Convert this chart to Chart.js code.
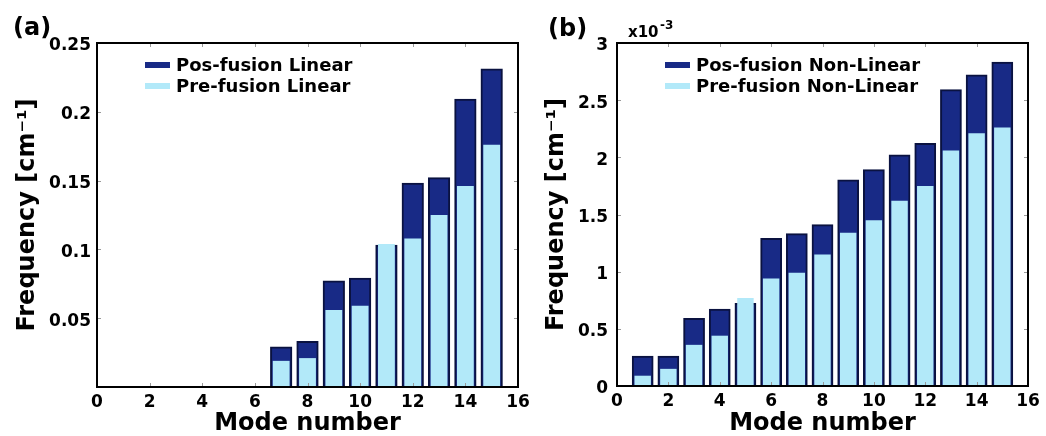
<!DOCTYPE html>
<html>
<head>
<meta charset="utf-8">
<script src="https://cdn.jsdelivr.net/npm/chart.js@4.4.1/dist/chart.umd.min.js"></script>
<style>
  body { margin: 0; background: #fff; }
  #wrap { position: relative; width: 1046px; height: 436px; }
  canvas { position: absolute; top: 0; }
</style>
</head>
<body>
<div id="wrap">
  <canvas id="chartA" width="545" height="436" style="left:0"></canvas>
  <canvas id="chartB" width="523" height="436" style="left:523px"></canvas>
</div>
<script>
// --- data ---
const modes = [1, 2, 3, 4, 5, 6, 7, 8, 9, 10, 11, 12, 13, 14, 15];

// (a) linear, cm^-1 (modes 1-6 have no bar)
const linearPos = [null, null, null, null, null, null, 0.029, 0.033, 0.077, 0.079, 0.103, 0.148, 0.152, 0.209, 0.231];
const linearPre = [null, null, null, null, null, null, 0.019, 0.021, 0.056, 0.059, 0.104, 0.108, 0.125, 0.146, 0.176];

// (b) non-linear, in units of 1e-3 cm^-1
const nonLinearPos = [0.26, 0.26, 0.59, 0.67, 0.72, 1.29, 1.33, 1.41, 1.80, 1.89, 2.02, 2.12, 2.59, 2.72, 2.83];
const nonLinearPre = [0.09, 0.15, 0.36, 0.44, 0.77, 0.94, 0.99, 1.15, 1.34, 1.45, 1.62, 1.75, 2.06, 2.21, 2.26];

const legendA = ['Pos-fusion Linear', 'Pre-fusion Linear'];
const legendB = ['Pos-fusion Non-Linear', 'Pre-fusion Non-Linear'];

const FONT = 'DejaVu Sans';
const darkFill = '#182a86';
const darkEdge = '#0a1240';
const lightFill = '#b2e9f9';

const toPoints = arr => modes.map((m, i) => ({ x: m, y: arr[i] }));

// black box round the plot + little inward ticks (matplotlib style)
const frame = {
  id: 'frame',
  afterDraw(chart) {
    const { ctx, chartArea: a, scales: { x, y } } = chart;
    ctx.save();
    ctx.strokeStyle = '#999';
    ctx.lineWidth = 1;
    ctx.beginPath();
    x.ticks.forEach(t => {
      const px = Math.round(x.getPixelForValue(t.value)) + 0.5;
      ctx.moveTo(px, a.top); ctx.lineTo(px, a.top + 4);
      ctx.moveTo(px, a.bottom); ctx.lineTo(px, a.bottom - 4);
    });
    y.ticks.forEach(t => {
      const py = Math.round(y.getPixelForValue(t.value)) + 0.5;
      ctx.moveTo(a.left, py); ctx.lineTo(a.left + 4, py);
      ctx.moveTo(a.right, py); ctx.lineTo(a.right - 4, py);
    });
    ctx.stroke();
    ctx.strokeStyle = '#000';
    ctx.lineWidth = 2;
    ctx.strokeRect(a.left, a.top, a.right - a.left, a.bottom - a.top);
    ctx.restore();
  }
};

// legend drawn inside the plot, top left
const insideLegend = {
  id: 'insideLegend',
  afterDraw(chart, args, opts) {
    const { ctx, chartArea: a } = chart;
    ctx.save();
    ctx.font = 'bold 18px "' + FONT + '"';
    ctx.textBaseline = 'middle';
    chart.data.datasets.forEach((ds, i) => {
      const x = a.left + opts.left;
      const y = a.top + opts.top + i * opts.gap;
      ctx.fillStyle = ds.backgroundColor;
      ctx.fillRect(x, y - 3, 25, 6);
      ctx.fillStyle = '#000';
      ctx.fillText(ds.label, x + 31, y + 1);
    });
    ctx.restore();
  }
};

// panel letter and the x10^-3 multiplier
function panelText(items) {
  return {
    id: 'panelText',
    afterDraw(chart) {
      const ctx = chart.ctx;
      ctx.save();
      ctx.fillStyle = '#000';
      ctx.textBaseline = 'alphabetic';
      items.forEach(it => {
        ctx.font = it.font;
        ctx.fillText(it.text, it.x, it.y);
      });
      ctx.restore();
    }
  };
}

function makeChart(id, cfg) {
  return new Chart(document.getElementById(id), {
    type: 'bar',
    data: {
      datasets: [
        {
          label: cfg.labels[0], data: toPoints(cfg.pos),
          backgroundColor: darkFill, borderColor: darkEdge, borderWidth: 2,
          borderSkipped: 'bottom', inflateAmount: 0.6,
          barPercentage: 0.8, categoryPercentage: 1,
          grouped: false, order: 2
        },
        {
          label: cfg.labels[1], data: toPoints(cfg.pre),
          backgroundColor: lightFill, borderWidth: 0,
          barPercentage: 0.64, categoryPercentage: 1,
          grouped: false, order: 1
        }
      ]
    },
    options: {
      responsive: false,
      animation: false,
      devicePixelRatio: 1,
      layout: { padding: { top: cfg.top, right: cfg.right, left: 0, bottom: 0 } },
      plugins: {
        legend: { display: false },
        tooltip: { enabled: false },
        insideLegend: { left: 48, top: 22, gap: 21 }
      },
      scales: {
        x: {
          type: 'linear', min: 0, max: 16, offset: false,
          grid: { display: false, drawTicks: false, offset: false },
          border: { display: false },
          ticks: { stepSize: 2, color: '#000', padding: 5, maxRotation: 0,
                   font: { family: FONT, weight: 'bold', size: 17 } },
          title: { display: true, text: 'Mode number', color: '#000', padding: 0,
                   font: { family: FONT, weight: 'bold', size: 24, lineHeight: 1 } },
          afterFit(s) { s.height = cfg.xHeight; s.paddingLeft = 0; s.paddingRight = 0; }
        },
        y: {
          min: 0, max: cfg.yMax,
          grid: { display: false, drawTicks: false },
          border: { display: false },
          ticks: { stepSize: cfg.yStep, color: '#000', padding: cfg.yPad, labelOffset: 3,
                   font: { family: FONT, weight: 'bold', size: 17 },
                   callback: cfg.yFmt },
          title: { display: true, text: 'Frequency [cm⁻¹]', color: '#000',
                   padding: { top: cfg.titlePad, bottom: 0 },
                   font: { family: FONT, weight: 'bold', size: 24, lineHeight: 1 } },
          afterFit(s) { s.width = cfg.yWidth; }
        }
      }
    },
    plugins: [frame, insideLegend, panelText(cfg.texts)]
  });
}

makeChart('chartA', {
  labels: legendA, pos: linearPos, pre: linearPre,
  top: 43, right: 27, xHeight: 49, yWidth: 97, yPad: 6, titlePad: 15.5,
  yMax: 0.25, yStep: 0.05,
  yFmt: v => (v === 0 ? '' : String(+v.toFixed(2))),
  texts: [{ text: '(a)', x: 13, y: 35, font: 'bold 24px "DejaVu Sans"' }]
});

makeChart('chartB', {
  labels: legendB, pos: nonLinearPos, pre: nonLinearPre,
  top: 43, right: 18, xHeight: 50, yWidth: 94, yPad: 9, titlePad: 21.5,
  yMax: 3, yStep: 0.5,
  yFmt: v => String(+v.toFixed(1)),
  texts: [
    { text: '(b)', x: 25, y: 35.5, font: 'bold 24px "DejaVu Sans"' },
    { text: 'x10', x: 105, y: 36.5, font: 'bold 15px "DejaVu Sans"' },
    { text: '-3', x: 137, y: 28.5, font: 'bold 12px "DejaVu Sans"' }
  ]
});
</script>
</body>
</html>
